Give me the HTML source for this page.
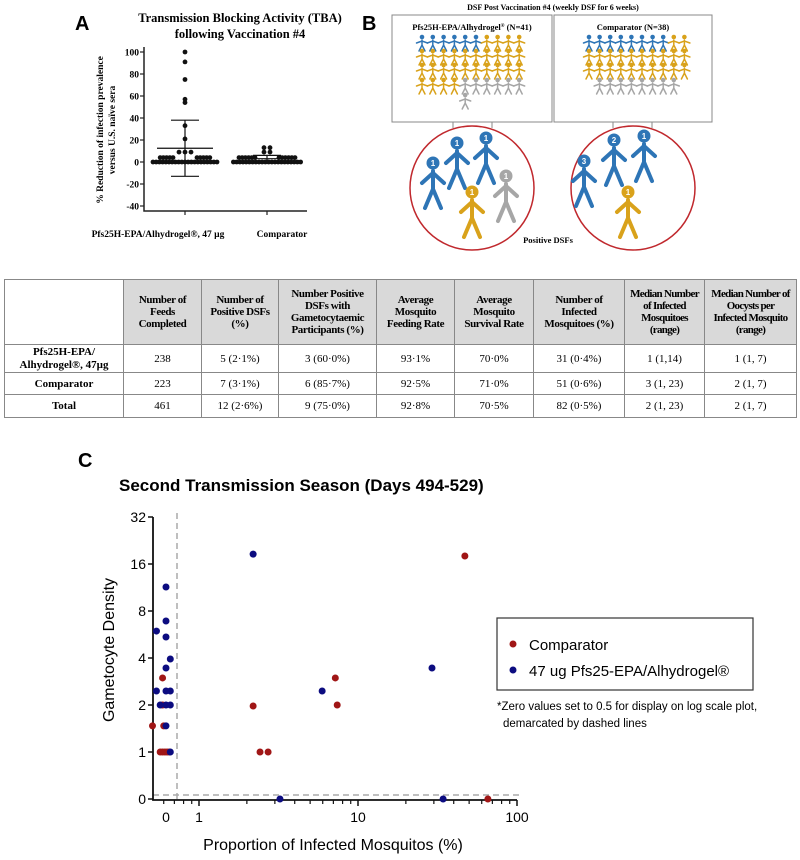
<!DOCTYPE html>
<html><head><meta charset="utf-8">
<style>
html,body{margin:0;padding:0;background:#fff;}
#wrap{position:relative;width:800px;height:860px;overflow:hidden;}
svg{position:absolute;left:0;top:0;}
.serif{font-family:"Liberation Serif",serif;}
.sans{font-family:"Liberation Sans",sans-serif;}
#tbl td{border:1.5px solid #888;padding:0;}
#tbl tr.h td{letter-spacing:-0.4px;line-height:12px;}
</style></head>
<body>
<div id="wrap">
<svg id="fig" width="800" height="860" viewBox="0 0 800 860">
  <text x="75" y="30" class="sans" font-size="20" font-weight="bold">A</text>
  <text x="240" y="22" class="serif" font-size="12.5" font-weight="bold" text-anchor="middle">Transmission Blocking Activity (TBA)</text>
  <text x="240" y="38" class="serif" font-size="12.5" font-weight="bold" text-anchor="middle">following Vaccination #4</text>
  <text transform="translate(103,130) rotate(-90)" class="serif" font-size="9.5" font-weight="bold" text-anchor="middle">% Reduction of infection prevalence</text>
  <text transform="translate(115,130) rotate(-90)" class="serif" font-size="9.5" font-weight="bold" text-anchor="middle">versus U.S. naïve sera</text>
  <text x="158" y="237" class="serif" font-size="9.5" font-weight="bold" text-anchor="middle">Pfs25H-EPA/Alhydrogel®, 47 µg</text>
  <text x="282" y="237" class="serif" font-size="9.5" font-weight="bold" text-anchor="middle">Comparator</text>
  <g id="panelA"></g>

  <text x="362" y="30" class="sans" font-size="20" font-weight="bold">B</text>
  <text x="553" y="10" class="serif" font-size="8" font-weight="bold" text-anchor="middle">DSF Post Vaccination #4 (weekly DSF for 6 weeks)</text>
  <rect x="392" y="15" width="160" height="107" fill="#fff" stroke="#888" stroke-width="1"/>
  <rect x="554" y="15" width="158" height="107" fill="#fff" stroke="#888" stroke-width="1"/>
  <text x="472" y="30" class="serif" font-size="8.5" font-weight="bold" text-anchor="middle">Pfs25H-EPA/Alhydrogel<tspan font-size="5" dy="-3">®</tspan><tspan dy="3"> (N=41)</tspan></text>
  <text x="633" y="30" class="serif" font-size="8.5" font-weight="bold" text-anchor="middle">Comparator (N=38)</text>
  <path d="M453 122 V128 M492 122 V128 M613 122 V128 M652 122 V128" stroke="#888" stroke-width="1" fill="none"/>
  <circle cx="472" cy="188" r="62" fill="#fff" stroke="#c0282d" stroke-width="1.5"/>
  <circle cx="633" cy="188" r="62" fill="#fff" stroke="#c0282d" stroke-width="1.5"/>
  <text x="548" y="243" class="serif" font-size="8.5" font-weight="bold" text-anchor="middle">Positive DSFs</text>
  <g id="panelB"></g>

  <text x="78" y="467" class="sans" font-size="20" font-weight="bold">C</text>
  <text x="119" y="491" class="sans" font-size="17" font-weight="bold">Second Transmission Season (Days 494-529)</text>
  <text transform="translate(114,650) rotate(-90)" class="sans" font-size="16" text-anchor="middle">Gametocyte Density</text>
  <text x="333" y="850" class="sans" font-size="16" text-anchor="middle">Proportion of Infected Mosquitos (%)</text>
  <rect x="497" y="618" width="256" height="72" fill="#fff" stroke="#333" stroke-width="1.2"/>
  <circle cx="513" cy="644" r="3.5" fill="#a01616"/>
  <text x="529" y="650" class="sans" font-size="15">Comparator</text>
  <circle cx="513" cy="670" r="3.5" fill="#0c0c80"/>
  <text x="529" y="676" class="sans" font-size="15">47 ug Pfs25-EPA/Alhydrogel®</text>
  <text x="497" y="710" class="sans" font-size="11.5">*Zero values set to 0.5 for display on log scale plot,</text>
  <text x="503" y="727" class="sans" font-size="11.5">demarcated by dashed lines</text>
  <g id="panelC"></g>
</svg>

<table id="tbl" style="position:absolute;left:4px;top:279px;width:793px;height:138px;border-collapse:collapse;font-family:'Liberation Serif',serif;font-size:11px;text-align:center;">
  <tr class="h" style="height:65px;background:#d9d9d9;font-weight:bold;">
    <td style="width:118px;background:#fff;"></td>
    <td style="width:77px;">Number of<br>Feeds<br>Completed</td>
    <td style="width:76px;">Number of<br>Positive DSFs<br>(%)</td>
    <td style="width:97px;">Number Positive<br>DSFs with<br>Gametocytaemic<br>Participants (%)</td>
    <td style="width:77px;">Average<br>Mosquito<br>Feeding Rate</td>
    <td style="width:78px;">Average<br>Mosquito<br>Survival Rate</td>
    <td style="width:90px;">Number of<br>Infected<br>Mosquitoes (%)</td>
    <td style="width:79px;letter-spacing:-0.7px;">Median Number<br>of Infected<br>Mosquitoes<br>(range)</td>
    <td style="letter-spacing:-0.7px;">Median Number of<br>Oocysts per<br>Infected Mosquito<br>(range)</td>
  </tr>
  <tr style="height:28px;">
    <td style="font-weight:bold;line-height:13px;">Pfs25H-EPA/<br>Alhydrogel®, 47µg</td>
    <td>238</td><td>5 (2·1%)</td><td>3 (60·0%)</td><td>93·1%</td><td>70·0%</td><td>31 (0·4%)</td><td>1 (1,14)</td><td>1 (1, 7)</td>
  </tr>
  <tr style="height:22px;">
    <td style="font-weight:bold;">Comparator</td>
    <td>223</td><td>7 (3·1%)</td><td>6 (85·7%)</td><td>92·5%</td><td>71·0%</td><td>51 (0·6%)</td><td>3 (1, 23)</td><td>2 (1, 7)</td>
  </tr>
  <tr style="height:23px;">
    <td style="font-weight:bold;">Total</td>
    <td>461</td><td>12 (2·6%)</td><td>9 (75·0%)</td><td>92·8%</td><td>70·5%</td><td>82 (0·5%)</td><td>2 (1, 23)</td><td>2 (1, 7)</td>
  </tr>
</table>
</div>

<script>
// ===== Panel A data =====
var aTicks = [100, 80, 60, 40, 20, 0, -20, -40];
var aVaccine = [100, 91, 75, 57, 54, 33, 21, 9, 9, 9, 4, 4, 4, 4, 4, 4, 4, 4, 4, 4, 0, 0, 0, 0, 0, 0, 0, 0, 0, 0, 0, 0, 0, 0, 0, 0, 0, 0, 0, 0, 0];
var aComparator = [13, 13, 9, 9, 4, 4, 4, 4, 4, 4, 4, 4, 4, 4, 4, 4, 0, 0, 0, 0, 0, 0, 0, 0, 0, 0, 0, 0, 0, 0, 0, 0, 0, 0, 0, 0, 0, 0];
var aVaccineStats = [12.5, 38, -13];
var aComparatorStats = [3, 6, 0];

// ===== Panel C data =====
var cYTicks = [0.5, 1, 2, 4, 8, 16, 32];
var cYTickLabels = ["0", "1", "2", "4", "8", "16", "32"];
var cXTickVals = [0.62, 1, 10, 100];
var cXTickLabels = ["0", "1", "10", "100"];
var compX = [2.19, 2.42, 2.72, 7.2, 7.4, 47, 65.6, 0.51, 0.59, 0.59, 0.60, 0.57, 0.59, 0.61, 0.63, 0.65];
var compY = [1.97, 1, 1, 2.98, 2, 18, 0.5, 1.47, 2.98, 2, 1.47, 1, 1, 1, 1, 1];
var vacX = [2.19, 29.2, 5.95, 3.23, 34.3, 0.62, 0.62, 0.54, 0.62, 0.66, 0.62, 0.54, 0.62, 0.66, 0.57, 0.62, 0.66, 0.62, 0.66];
var vacY = [18.5, 3.45, 2.46, 0.5, 0.5, 11.4, 6.9, 5.95, 5.45, 3.94, 3.45, 2.46, 2.46, 2.46, 2, 2, 2, 1.47, 1];

// ===== Panel B data =====
var bVacCounts = [6, 4, 10, 10, 4, 6, 1];
var bCompCounts = [8, 2, 10, 10, 8];

var NS = "http://www.w3.org/2000/svg";
function mk(tag, attrs, parent) {
  var e = document.createElementNS(NS, tag);
  for (var k in attrs) e.setAttribute(k, attrs[k]);
  parent.appendChild(e);
  return e;
}

(function(){
  var g = document.getElementById('panelA');
  var x0 = 144, yA = function(v){ return 162 - v * 1.1; };
  var ax = mk('path', {d:'M'+x0+' 47 V211 H307', stroke:'#222', 'stroke-width':1.5, fill:'none'}, g);
  
  
  aTicks.forEach(function(t){
    var tk = mk('line', {x1:x0-4, x2:x0, y1:yA(t), y2:yA(t), stroke:'#222', 'stroke-width':1.2}, g);
    
    
    var tl = mk('text', {x:x0-5, y:yA(t)+3.5, 'text-anchor':'end', 'font-size':9.5, 'font-weight':'bold', 'font-family':'Liberation Serif, serif'}, g);
    tl.textContent = t;
    
    
  });
  [185, 267].forEach(function(cx){
    var t = mk('line', {x1:cx, x2:cx, y1:211, y2:215, stroke:'#222', 'stroke-width':1.2}, g);
    
    
  });
  function group(vals, stats, cx, name){
    var counts = {}, idx = {};
    vals.forEach(function(v){ counts[v] = (counts[v]||0) + 1; });
    vals.forEach(function(v){
      idx[v] = (idx[v]||0);
      var n = counts[v], i = idx[v]++;
      var spread = n > 8 ? 3.2 : 6;
      var off = (i - (n-1)/2) * spread;
      if (v === 4) off = (i < n/2 ? -1 : 1) * (12 + (i % Math.ceil(n/2)) * 3.2);
      var d = mk('circle', {cx:cx+off, cy:yA(v), r:2.4, fill:'#111'}, g);
      
      
    });
    var m = mk('path', {d:'M'+(cx-28)+' '+yA(stats[0])+' H'+(cx+28)+' M'+(cx-14)+' '+yA(stats[1])+' H'+(cx+14)+' M'+(cx-14)+' '+yA(stats[2])+' H'+(cx+14)+' M'+cx+' '+yA(stats[1])+' V'+yA(stats[2]), stroke:'#111', 'stroke-width':1.2, fill:'none'}, g);
    
    
  }
  group(aVaccine, aVaccineStats, 185, 'vaccine');
  group(aComparator, aComparatorStats, 267, 'comparator');
})();

(function(){
  var g = document.getElementById('panelB');
  var C = {b:'#2e75b6', y:'#d9a21b', g:'#a6a6a6'};
  function small(x, y, col){
    var p = mk('g', {stroke:col, 'stroke-width':1.5, fill:'none', 'stroke-linecap':'round'}, g);
    
    
    mk('circle', {cx:x, cy:y-5, r:2.3, fill:col, stroke:'none'}, p);
    mk('path', {d:'M'+x+' '+(y-2)+' V'+(y+3)+' M'+(x-5.5)+' '+(y+1)+' L'+x+' '+(y-1)+' L'+(x+5.5)+' '+(y+1)+' M'+(x-3)+' '+(y+9)+' L'+x+' '+(y+3)+' L'+(x+3)+' '+(y+9)}, p);
  }
  function layout(rowsSpec, x0, dx){
    var ys = [42, 56, 70, 85, 100];
    rowsSpec.forEach(function(r){
      for (var i = 0; i < r[2]; i++) small(x0 + (r[1]+i)*dx, ys[r[0]], C[r[3]]);
    });
  }
  layout([[0,0,bVacCounts[0],'b'],[0,6,bVacCounts[1],'y'],[1,0,bVacCounts[2],'y'],[2,0,bVacCounts[3],'y'],[3,0,bVacCounts[4],'y'],[3,4,bVacCounts[5],'g'],[4,4,bVacCounts[6],'g']], 422, 10.8);
  layout([[0,0,bCompCounts[0],'b'],[0,8,bCompCounts[1],'y'],[1,0,bCompCounts[2],'y'],[2,0,bCompCounts[3],'y'],[3,1,bCompCounts[4],'g']], 589, 10.6);
  function big(hx, hy, col, num){
    var p = mk('g', {stroke:col, 'stroke-width':4, fill:'none', 'stroke-linecap':'round', 'stroke-linejoin':'round'}, g);
    
    
    mk('path', {d:'M'+hx+' '+(hy+8)+' V'+(hy+26)+' M'+(hx-11)+' '+(hy+20)+' L'+hx+' '+(hy+10)+' L'+(hx+11)+' '+(hy+20)+' M'+(hx-8)+' '+(hy+45)+' L'+hx+' '+(hy+26)+' L'+(hx+8)+' '+(hy+45)}, p);
    mk('circle', {cx:hx, cy:hy, r:6.5, fill:col, stroke:'none'}, p);
    var t = mk('text', {x:hx, y:hy+3, 'text-anchor':'middle', 'font-size':8, 'font-weight':'bold', fill:'#fff', stroke:'none', 'font-family':'Liberation Sans, sans-serif'}, p);
    t.textContent = num;
  }
  big(433,163,C.b,'1'); big(457,143,C.b,'1'); big(486,138,C.b,'1'); big(472,192,C.y,'1'); big(506,176,C.g,'1');
  big(584,161,C.b,'3'); big(614,140,C.b,'2'); big(644,136,C.b,'1'); big(628,192,C.y,'1');
})();

(function(){
  var g = document.getElementById('panelC');
  var X = function(v){ return 199 + Math.log10(v) * 159; };
  var Y = function(v){ return 752 - Math.log2(v) * 47; };
  var dash1 = mk('line', {x1:177, x2:177, y1:513, y2:800, stroke:'#aaa', 'stroke-width':1.5, 'stroke-dasharray':'6,4'}, g);
  
  
  var dash2 = mk('line', {x1:153, x2:520, y1:795, y2:795, stroke:'#aaa', 'stroke-width':1.5, 'stroke-dasharray':'6,4'}, g);
  
  
  var axes = mk('path', {d:'M153 517 V800 H517', stroke:'#111', 'stroke-width':1.8, fill:'none'}, g);
  
  
  cYTicks.forEach(function(t, i){
    var y = Math.min(Y(t), 800);
    var tk = mk('line', {x1:148, x2:153, y1:y, y2:y, stroke:'#111', 'stroke-width':1.5}, g);
    
    
    var tl = mk('text', {x:146, y:y+5, 'text-anchor':'end', 'font-size':14, 'font-family':'Liberation Sans, sans-serif'}, g);
    tl.textContent = cYTickLabels[i];
    
    
  });
  [1,10].forEach(function(dec){
    for (var m = 2; m <= 9; m++) {
      var x = X(dec*m);
      var t = mk('line', {x1:x, x2:x, y1:800, y2:804, stroke:'#111', 'stroke-width':1.2}, g);
      
      
    }
  });
  [0.6, 0.7, 0.8, 0.9].forEach(function(v){
    var t = mk('line', {x1:X(v), x2:X(v), y1:800, y2:804, stroke:'#111', 'stroke-width':1.2}, g);
    
    
  });
  cXTickVals.forEach(function(v, i){
    var x = X(v);
    if (i > 0) {
      var t = mk('line', {x1:x, x2:x, y1:800, y2:806, stroke:'#111', 'stroke-width':1.5}, g);
      
      
    }
    var tl = mk('text', {x:x, y:822, 'text-anchor':'middle', 'font-size':14, 'font-family':'Liberation Sans, sans-serif'}, g);
    tl.textContent = cXTickLabels[i];
    
    
  });
  compX.forEach(function(v, i){
    var c = mk('circle', {cx:X(v), cy:Math.min(Y(compY[i]),800), r:3.5, fill:'#a01616'}, g);
    
    
  });
  vacX.forEach(function(v, i){
    var c = mk('circle', {cx:X(v), cy:Math.min(Y(vacY[i]),800), r:3.5, fill:'#0c0c80'}, g);
    
    
  });
})();
</script>
</body></html>
